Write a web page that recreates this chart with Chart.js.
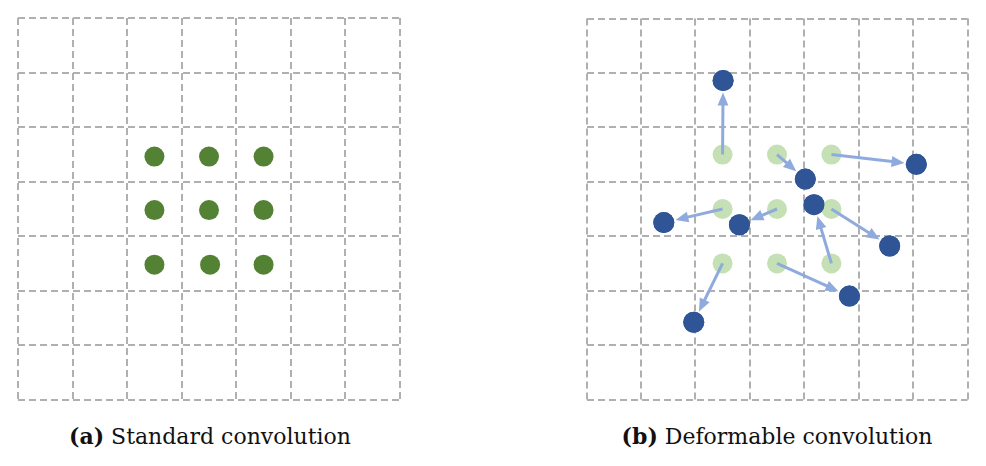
<!DOCTYPE html>
<html><head><meta charset="utf-8">
<script src="https://cdn.jsdelivr.net/npm/chart.js@4/dist/chart.umd.min.js"></script>
<style>
body{margin:0;background:#fff;width:986px;height:466px;position:relative;overflow:hidden}
.box{position:absolute;top:8px;width:402px;height:402px}
.cap{position:absolute;top:423px;font-family:"DejaVu Serif","Liberation Serif",serif;font-size:22px;color:#111;text-align:center;width:420px}
</style></head><body>
<div class="box" style="left:8px"><canvas id="a"></canvas></div>
<div class="box" style="left:576px"><canvas id="b"></canvas></div>
<div class="cap" style="left:0px"><b>(a)</b> Standard convolution</div>
<div class="cap" style="left:567px"><b>(b)</b> Deformable convolution</div>
<script>
// grid cell coordinates (7x7 grid, y down)
const samplingX = [2.5, 3.5, 4.5, 2.5, 3.5, 4.5, 2.5, 3.5, 4.5];
const samplingY = [2.5, 2.5, 2.5, 3.5, 3.5, 3.5, 4.5, 4.5, 4.5];
const standardX = [2.5, 3.5, 4.5, 2.5, 3.5, 4.5, 2.5, 3.52, 4.5];
const standardY = [2.54, 2.54, 2.54, 3.52, 3.52, 3.52, 4.52, 4.52, 4.52];
const offsetX = [2.51, 4.02, 6.06, 1.42, 2.81, 5.57, 1.97, 4.83, 4.18];
const offsetY = [1.14, 2.95, 2.68, 3.75, 3.79, 4.18, 5.58, 5.1, 3.42];

const pts = (xs, ys) => xs.map((x, i) => ({x: x, y: ys[i]}));

function axes() {
  const ax = {min: 0, max: 7, ticks: {display: false, stepSize: 1},
    grid: {color: '#b0b0b0', lineWidth: 2, drawTicks: false},
    border: {display: false, dash: [7, 4]}};
  return {x: Object.assign({type: 'linear'}, ax), y: Object.assign({type: 'linear', reverse: true}, JSON.parse(JSON.stringify(ax)))};
}

const arrows = {
  id: 'arrows',
  afterDatasetsDraw(chart) {
    const ctx = chart.ctx, sx = chart.scales.x, sy = chart.scales.y;
    ctx.save();
    ctx.strokeStyle = '#8faadc'; ctx.fillStyle = '#8faadc'; ctx.lineWidth = 3;
    samplingX.forEach((_, i) => {
      let x0 = sx.getPixelForValue(samplingX[i]), y0 = sy.getPixelForValue(samplingY[i]);
      let x1 = sx.getPixelForValue(offsetX[i]), y1 = sy.getPixelForValue(offsetY[i]);
      const a = Math.atan2(y1 - y0, x1 - x0);
      x1 -= Math.cos(a) * 12; y1 -= Math.sin(a) * 12;
      ctx.beginPath(); ctx.moveTo(x0, y0);
      ctx.lineTo(x1 - Math.cos(a) * 8, y1 - Math.sin(a) * 8); ctx.stroke();
      ctx.beginPath(); ctx.moveTo(x1, y1);
      ctx.lineTo(x1 - 14 * Math.cos(a - 0.4), y1 - 14 * Math.sin(a - 0.4));
      ctx.lineTo(x1 - 14 * Math.cos(a + 0.4), y1 - 14 * Math.sin(a + 0.4));
      ctx.closePath(); ctx.fill();
    });
    ctx.restore();
    // redraw blue dots on top
    chart.getDatasetMeta(1).controller.draw();
  }
};

const common = {responsive: true, maintainAspectRatio: false, animation: false,
  layout: {padding: 2}, plugins: {legend: {display: false}, tooltip: {enabled: false}}};

new Chart(document.getElementById('a'), {
  type: 'scatter',
  data: {datasets: [{data: pts(standardX, standardY), pointRadius: 10, backgroundColor: '#548235', borderWidth: 0}]},
  options: Object.assign({scales: axes()}, common)
});

new Chart(document.getElementById('b'), {
  type: 'scatter',
  data: {datasets: [
    {data: pts(samplingX, samplingY), pointRadius: 10, backgroundColor: '#c5e0b4', borderWidth: 0},
    {data: pts(offsetX, offsetY), pointRadius: 10.5, backgroundColor: '#2f5597', borderWidth: 0}
  ]},
  options: Object.assign({scales: axes()}, common),
  plugins: [arrows]
});
</script>
</body></html>
